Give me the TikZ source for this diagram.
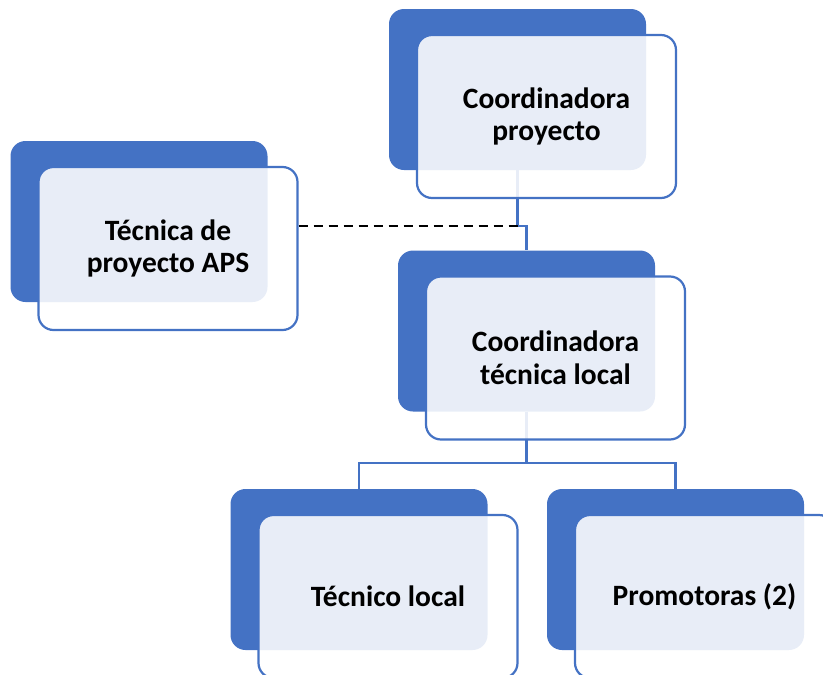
\documentclass[tikz,border=0pt]{standalone}
\usepackage{fontspec}
\setmainfont{Carlito}
\usepackage{xcolor}
\usepackage{tikz}
\usetikzlibrary{calc}
\definecolor{smartblue}{HTML}{4472C4}
\tikzstyle{back} = [rectangle, rounded corners=15pt, minimum width=257pt, minimum height=161pt, inner sep=0pt, fill=smartblue]
\tikzstyle{front} = [rectangle, rounded corners=15pt, minimum width=259pt, minimum height=163pt, inner sep=0pt, draw=smartblue, line width=2.2pt, fill=white, fill opacity=0.88, text opacity=1, align=center, font=\fontsize{29.5}{32.5}\selectfont\bfseries]
\tikzstyle{conn} = [draw=smartblue, line width=2.2pt]
\tikzstyle{link} = [line width=1.5pt, dash pattern=on 9pt off 6pt]

\begin{document}
\begin{tikzpicture}[x=1pt, y=-1pt]
   \useasboundingbox (0,0) rectangle (823,675);
   \clip (0,0) rectangle (823,675);
   \node (coordback) [back] at (517.5,89.5) {};
   \node (tecback) [back] at (139,221.5) {};
   \node (coordlocback) [back] at (526.5,331) {};
   \node (teclocback) [back] at (359,569.5) {};
   \node (promoback) [back] at (675.5,569.5) {};
   \coordinate (jog) at (517.5,226);
   \coordinate (split) at (526.5,463);
   \draw [conn] (coordback.south) -- (jog) -| (coordlocback.north);
   \draw [conn] (coordlocback.south) -- (split);
   \draw [conn] (split) -| (teclocback.north);
   \draw [conn] (split) -| (promoback.north);
   \node (coord) [front] at ($(coordback)+(29,27)$) {Coordinadora\\proyecto};
   \node (tec) [front] at ($(tecback)+(29,27)$) {Técnica de\\proyecto APS};
   \node (coordloc) [front] at ($(coordlocback)+(29,27)$) {Coordinadora\\técnica local};
   \node (tecloc) [front] at ($(teclocback)+(29,27)$) {Técnico local};
   \node (promo) [front] at ($(promoback)+(29,27)$) {Promotoras (2)};
   \draw [link] (tec.east |- jog) -- (jog);
\end{tikzpicture}
\end{document}
